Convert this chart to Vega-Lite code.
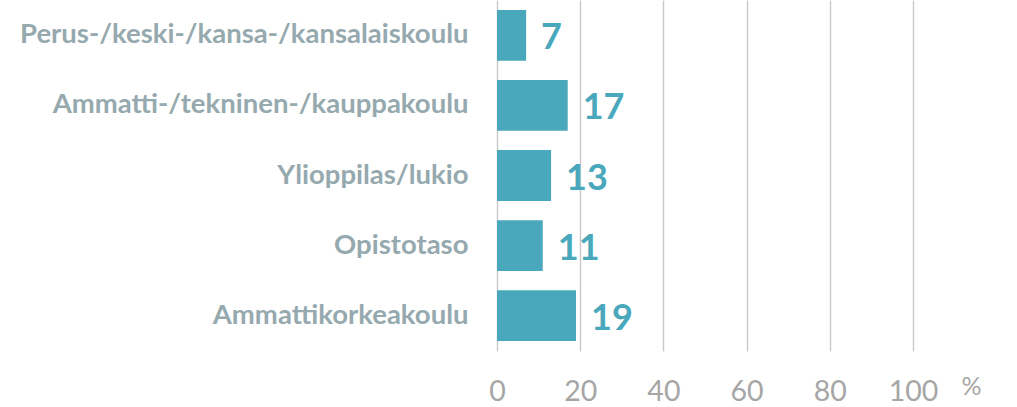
{
  "$schema": "https://vega.github.io/schema/vega-lite/v6.json",
  "width": 416,
  "height": 351,
  "autosize": {"type": "none"},
  "padding": {"left": 497, "top": 0, "right": 104, "bottom": 56},
  "background": "white",
  "data": {"values": [
    {"koulutus": "Perus-/keski-/kansa-/kansalaiskoulu", "pct": 7},
    {"koulutus": "Ammatti-/tekninen-/kauppakoulu", "pct": 17},
    {"koulutus": "Ylioppilas/lukio", "pct": 13},
    {"koulutus": "Opistotaso", "pct": 11},
    {"koulutus": "Ammattikorkeakoulu", "pct": 19}
  ]},
  "config": {"view": {"stroke": null}},
  "encoding": {
    "y": {
      "field": "koulutus", "type": "nominal", "sort": null,
      "scale": {"paddingInner": 0.274, "paddingOuter": 0.142},
      "axis": {"title": null, "domain": false, "ticks": false, "labelPadding": 29,
        "labelFont": "Lato", "labelFontWeight": "bold", "labelFontSize": 27.5,
        "labelColor": "#95a9ae", "labelLimit": 500}
    },
    "x": {
      "field": "pct", "type": "quantitative",
      "scale": {"domain": [0, 100], "nice": false},
      "axis": {"values": [0, 20, 40, 60, 80, 100], "domain": false, "ticks": false,
        "grid": true, "gridColor": "#c8c8c8", "gridWidth": 1.4,
        "labelFont": "Lato", "labelFontSize": 28.5, "labelColor": "#a6a6a6",
        "labelPadding": 26, "labelFlush": false,
        "title": "%", "titleFont": "Lato", "titleFontWeight": "normal", "titleFontSize": 25,
        "titleColor": "#a6a6a6", "titleAngle": 0, "titleX": 474, "titleY": 43,
        "titleAlign": "center", "titleBaseline": "alphabetic"}
    }
  },
  "layer": [
    {"mark": {"type": "bar", "color": "#4aa8bd"}},
    {"mark": {"type": "text", "align": "left", "baseline": "middle", "dx": 15, "dy": 3,
      "font": "Lato", "fontWeight": "bold", "fontSize": 36, "color": "#4aa8bd"},
     "encoding": {"text": {"field": "pct", "type": "quantitative"}}}
  ]
}
